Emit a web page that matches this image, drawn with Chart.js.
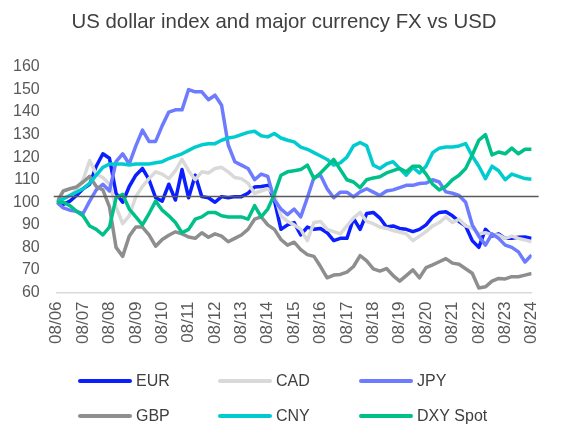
<!DOCTYPE html>
<html>
<head>
<meta charset="utf-8">
<script src="https://cdn.jsdelivr.net/npm/chart.js@4.4.1/dist/chart.umd.min.js"></script>
<style>
  html, body { margin: 0; padding: 0; background: #fff; }
  #wrap { width: 561px; height: 428px; }
</style>
</head>
<body>
<div id="wrap"><canvas id="fx" width="561" height="428"></canvas></div>
<script>
// quarterly samples, Aug 2006 -> Aug 2024, indexed to 100
const PER_YEAR = 4;
const TITLE = "US dollar index and major currency FX vs USD";
const tickLabels = ["08/06","08/07","08/08","08/09","08/10","08/11","08/12","08/13","08/14","08/15",
  "08/16","08/17","08/18","08/19","08/20","08/21","08/22","08/23","08/24"];
const seriesNames = ["EUR", "CAD", "JPY", "GBP", "CNY", "DXY Spot"];

const eur = [100,99,100.5,103,106,108,116,121.5,119.5,104,
  100,107,112,115,110,102,100.5,108,101,114.5,
  102,112,102.5,102,100,102.5,102,102.5,102.5,104,
  106.8,107,107.5,101,88,90,91,85.5,89,88,
  88.4,86.5,83,84,84,92.8,88,95,95.5,93,
  89,89.5,88.4,88,87,88,90,93.5,95.5,95.8,
  94,91.5,89.5,83,80,88,85,86,84,84,
  84.5,84.6,84];
const cad = [100,101.7,103,105.5,110,118.5,112.5,111,108,98,
  90.5,94,102.5,107,110.5,113.5,112.5,110.5,114,119,
  114,110,113.5,113,115,115.5,113.5,111,110.5,108.5,
  104,105,106,103.5,94,91.5,90,88,83,91,
  91.5,88,87,86,89.5,93,95.5,91.5,90.5,89,
  88.4,87.5,86.8,86,83,85,87,89.5,91,93.5,
  91,92.5,89.5,88.5,86,86.5,85.5,85.5,84,85,
  84,83.3,82.5];
const jpy = [100,97.5,96.5,96,95,100.5,105.5,108,105,118,
  121.5,117,125,132,127,127,134,140,141,141,
  150,149,149,145.5,147.5,143,125.5,118,116.5,115,
  110,112.5,111.5,101,97,94.5,97,93.5,102,111,
  112,106,102,104.5,104.5,102.4,104.6,106,104.5,103,
  105,105.5,106.5,107.5,107.5,108.3,108.5,110,109,104.6,
  104,103,100,90,85,81,86,84,81,80,
  78,73.5,76.6];
const gbp = [100,105,106,106.8,109,111.5,107,105.5,98,80,
  76,85,89,89,85.5,80.5,83.5,85.4,86.9,86,
  84.6,84,86.5,84.5,86,85,82.5,84,85.5,88,
  92.5,93.5,90,88,83.5,81,82.3,79,76.8,76,
  71.5,66.5,67.7,68,69,71.5,76.3,74,70.5,69.5,
  70.6,67.5,65,67.5,70,66.5,71,72.2,73.6,75,
  73,72.5,70.5,68.5,62,62.5,65,66.2,66,67,
  67,67.7,68.4];
const cny = [100,101.5,103,104.5,106,108.5,112,115.5,117,117,
  117,116.5,117,117,117,117.5,118,119.4,120.5,121.5,
  123,124.5,125.5,126,126,127.5,128.5,129,130,131,
  131.5,129.5,129,130.5,128.5,127.5,126.8,124.5,123.5,122,
  120.5,119,116.5,117.5,120,125,126.5,125,116.5,115,
  117,118,115,112,115.5,113,116,122,124,124.5,
  124.5,125,126,120.5,116,110.5,116,114,110,112.5,
  111.5,110.5,110.2];
const dxy = [100,100,98.5,96,94,89.5,88,85.5,89,102,
  103.5,97,93.5,90,95,100.5,96.5,94,91,86.5,
  88,92.5,93.5,95.5,95.5,94,93.5,93.5,93.5,92.5,
  98.5,93.5,97,103.5,112,113.5,114,114.5,116.5,110.5,
  113,116,119,114.5,110,109,106.5,110,110.8,111.3,
  113,114,115,113.5,116,116,112.5,108,105.5,107,
  110,112,115,121,127.5,130,121,122.3,121.5,124,
  121.5,123.5,123.5];
const REF_LEVEL = 103;

const colors = ["#0A1EFF", "#D9D9D9", "#6D7BFF", "#8E8E8E", "#00CCD0", "#00C08A"];
const FONT = "'Liberation Sans', Arial, sans-serif";

function toPoints(values) {
  return values.map((v, i) => ({ x: i / PER_YEAR, y: v }));
}

const allSeries = [eur, cad, jpy, gbp, cny, dxy];
const datasets = allSeries.map((vals, i) => ({
  label: seriesNames[i],
  data: toPoints(vals),
  borderColor: colors[i],
  backgroundColor: colors[i],
  borderWidth: 3.5,
  pointRadius: 0,
  tension: 0,
  borderJoinStyle: "round",
  order: allSeries.length - i // later series on top
}));

// title drawn by hand so it can sit where the original has it
const titlePlugin = {
  id: "topTitle",
  afterDraw(chart) {
    const ctx = chart.ctx;
    ctx.save();
    ctx.font = "20.4px " + FONT;
    ctx.fillStyle = "#404040";
    ctx.textAlign = "center";
    ctx.textBaseline = "middle";
    ctx.fillText(TITLE, 284, 22);
    ctx.restore();
  }
};

// horizontal reference line
const refLine = {
  id: "refLine",
  afterDatasetsDraw(chart) {
    const { ctx, chartArea, scales } = chart;
    const y = Math.round(scales.y.getPixelForValue(REF_LEVEL)) + 0.5;
    ctx.save();
    ctx.strokeStyle = "#595959";
    ctx.lineWidth = 1.5;
    ctx.beginPath();
    ctx.moveTo(chartArea.left - 3, y);
    ctx.lineTo(chartArea.right + 7, y);
    ctx.stroke();
    ctx.restore();
  }
};

// legend in a 3 x 2 grid
const gridLegend = {
  id: "gridLegend",
  afterDraw(chart) {
    const ctx = chart.ctx;
    const colX = [80, 220, 361];
    const rowY = [chart.height - 47, chart.height - 12];
    ctx.save();
    ctx.font = "16px " + FONT;
    ctx.textBaseline = "middle";
    chart.data.datasets.forEach((ds, i) => {
      const x = colX[i % 3];
      const y = rowY[Math.floor(i / 3)];
      ctx.strokeStyle = ds.borderColor;
      ctx.lineWidth = 4;
      ctx.lineCap = "round";
      ctx.beginPath();
      ctx.moveTo(x, y);
      ctx.lineTo(x + 50, y);
      ctx.stroke();
      ctx.fillStyle = "#404040";
      ctx.fillText(ds.label, x + 56, y + 1);
    });
    ctx.restore();
  }
};

new Chart(document.getElementById("fx"), {
  type: "line",
  data: { datasets },
  options: {
    responsive: false,
    animation: false,
    layout: { padding: { left: -4, right: 16, top: 67, bottom: 75 } },
    plugins: {
      legend: { display: false },
      tooltip: { enabled: false },
      title: { display: false }
    },
    scales: {
      x: {
        type: "linear",
        min: 0,
        max: 18,
        grid: { display: false, drawTicks: false },
        border: { display: true, color: "#D9D9D9", width: 1.5 },
        ticks: {
          stepSize: 1,
          autoSkip: false,
          minRotation: 90,
          maxRotation: 90,
          padding: 9,
          color: "#595959",
          font: { family: FONT, size: 17 },
          callback: (v) => tickLabels[v] ?? ""
        }
      },
      y: {
        min: 60,
        max: 160,
        grid: { display: false, drawTicks: false },
        border: { display: false },
        ticks: {
          stepSize: 10,
          padding: 17,
          color: "#595959",
          font: { family: FONT, size: 16 }
        }
      }
    }
  },
  plugins: [titlePlugin, refLine, gridLegend]
});
</script>
</body>
</html>
